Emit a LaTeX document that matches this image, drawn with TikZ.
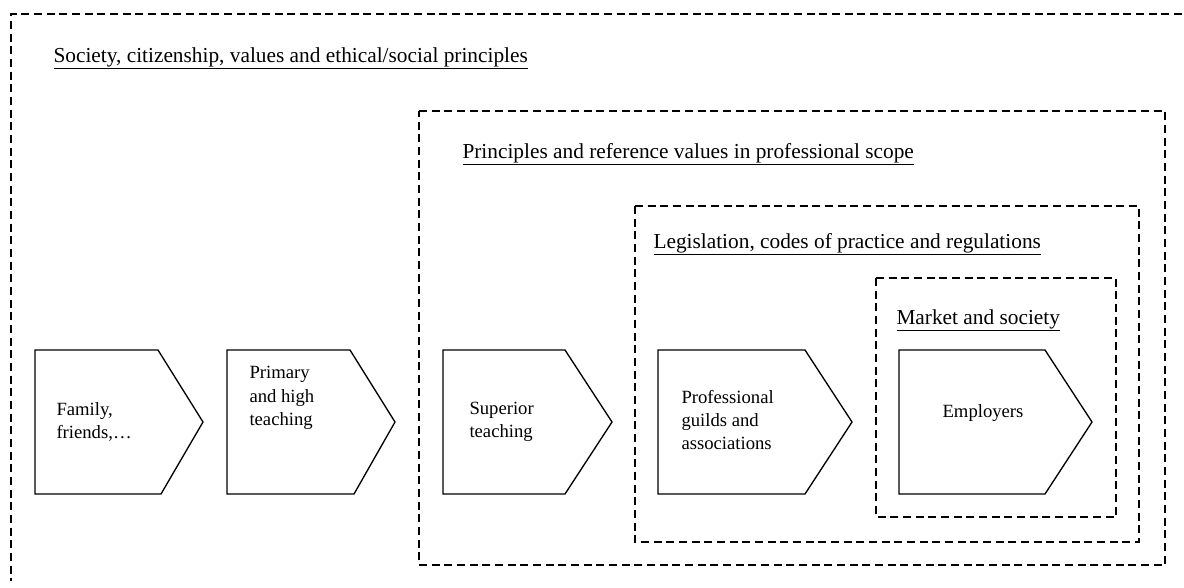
\documentclass[tikz,border=0pt]{standalone}
\usepackage{fontspec}
\setmainfont{Liberation Serif}
\begin{document}
\tikzset{every picture/.style={line width=0.75pt}}

\begin{tikzpicture}[x=0.75pt,y=0.75pt,yscale=-1,xscale=1,
  scopebox/.style={line width=1pt, dash pattern=on 6pt off 3.5pt},
  stage/.style={line width=1pt, line join=miter},
  heading/.style={anchor=base west, inner sep=0.75pt, font=\fontsize{16}{19}\selectfont},
  stagetext/.style={inner sep=0.75pt, align=left, font=\fontsize{14}{17.5}\selectfont}]
\path [use as bounding box] (0,0) rectangle (1184,587);

%Shape: Outer scope (open on the right and bottom)
\draw [scopebox] (1182,14) -- (11,14) -- (11,581) ;
%Shape: Rectangle [id:principles]
\draw [scopebox] (419,111) -- (1165,111) -- (1165,565) -- (419,565) -- cycle ;
%Shape: Rectangle [id:legislation]
\draw [scopebox] (635,206) -- (1139,206) -- (1139,542) -- (635,542) -- cycle ;
%Shape: Rectangle [id:market]
\draw [scopebox] (876,278) -- (1116,278) -- (1116,517) -- (876,517) -- cycle ;

%Shape: Pentagon [id:family]
\draw [stage] (35,350) -- (158,350) -- (203,422) -- (161,494) -- (35,494) -- cycle ;
%Shape: Pentagon [id:primary]
\draw [stage] (227,350) -- (350,350) -- (395,422) -- (354,494) -- (227,494) -- cycle ;
%Shape: Pentagon [id:superior]
\draw [stage] (443,350) -- (565,350) -- (612,422) -- (565,494) -- (443,494) -- cycle ;
%Shape: Pentagon [id:guilds]
\draw [stage] (658,350) -- (805,350) -- (852,422) -- (805,494) -- (658,494) -- cycle ;
%Shape: Pentagon [id:employers]
\draw [stage] (899,350) -- (1045,350) -- (1092,422) -- (1045,494) -- (899,494) -- cycle ;

% Text Node
\node [heading] (societytitle) at (52,62) {\underline{Society, citizenship, values and ethical/social principles}};
% Text Node
\node [heading] (principlestitle) at (461,158) {\underline{Principles and reference values in professional scope}};
% Text Node
\node [heading] (legislationtitle) at (652,248) {\underline{Legislation, codes of practice and regulations}};
% Text Node
\node [heading] (markettitle) at (895,324) {\underline{Market and society}};

% Text Node
\node [stagetext, anchor=west] (family) at (55,422) {Family,\\friends,…};
% Text Node
\node [stagetext, anchor=west] (primary) at (248,398) {Primary\\and high\\teaching};
% Text Node
\node [stagetext, anchor=west] (superior) at (468,422) {Superior\\teaching};
% Text Node
\node [stagetext, anchor=west] (guilds) at (680,420) {Professional\\guilds and\\associations};
% Text Node
\node [stagetext] (employers) at (983,413) {Employers};

\end{tikzpicture}
\end{document}
